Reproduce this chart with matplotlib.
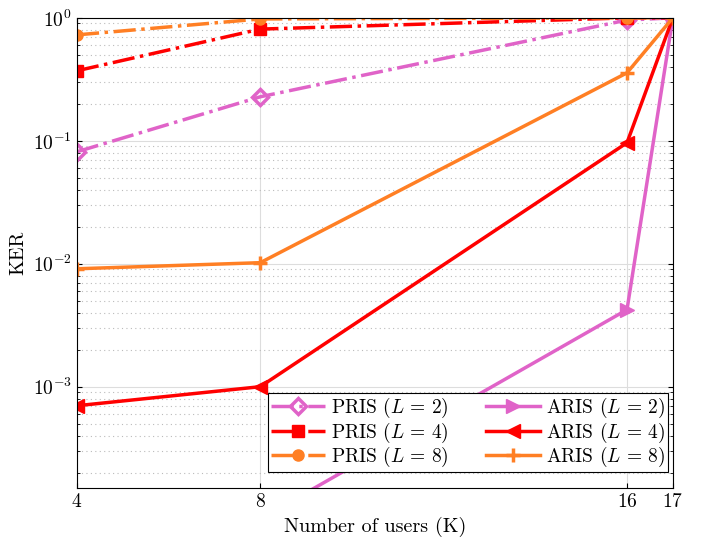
import matplotlib.pyplot as plt
import numpy as np

plt.rcParams['font.family'] = 'serif'
plt.rcParams['font.serif'] = ['cmr10', 'DejaVu Serif']
plt.rcParams['mathtext.fontset'] = 'cm'
plt.rcParams['axes.formatter.use_mathtext'] = True
plt.rcParams['axes.unicode_minus'] = False

# data
users = [4, 8, 16, 17]
pris_l2 = [0.0814, 0.228, 0.96, 1.0]
pris_l4 = [0.371, 0.81, 1.0, 1.0]
pris_l8 = [0.727, 0.98, 1.0, 1.0]
aris_l2 = [1.2e-5, 8.4e-5, 0.00423, 1.0]
aris_l4 = [7.0e-4, 1.0e-3, 0.0964, 1.0]
aris_l8 = [0.0091, 0.0102, 0.357, 1.0]

pink = '#E063C8'
red = '#FF0000'
orange = '#FF7F24'

fig = plt.figure(figsize=(7.12, 5.41), dpi=100)
ax = fig.add_axes([0.108, 0.098, 0.837, 0.869])

lw = 2.5
ax.plot(users, pris_l2, '-.', color=pink, lw=lw, marker='D', ms=8, mfc='none', mew=2.5,
        label=r'PRIS ($L\,=\,2$)')
ax.plot(users, pris_l4, '-.', color=red, lw=lw, marker='s', ms=8, label=r'PRIS ($L\,=\,4$)')
ax.plot(users, pris_l8, '-.', color=orange, lw=lw, marker='o', ms=8, label=r'PRIS ($L\,=\,8$)')
ax.plot(users, aris_l2, '-', color=pink, lw=lw, marker='>', ms=10, label=r'ARIS ($L\,=\,2$)')
ax.plot(users, aris_l4, '-', color=red, lw=lw, marker='<', ms=10, label=r'ARIS ($L\,=\,4$)')
ax.plot(users, aris_l8, '-', color=orange, lw=lw, marker='+', ms=10, mew=2.5,
        label=r'ARIS ($L\,=\,8$)')

ax.set_yscale('log')
ax.set_xlim(4, 17)
ax.set_ylim(1.5e-4, 1.0)
ax.set_xticks(users)
ax.set_yticks([1e-3, 1e-2, 1e-1, 1e0])
ax.tick_params(which='both', direction='in', top=True, right=True, labelsize=14)
ax.grid(True, which='major', color='#dddddd', lw=0.8, ls='-')
ax.grid(True, which='minor', axis='y', color='#bbbbbb', lw=0.8, ls=(0, (1, 3)))
ax.set_axisbelow(True)

ax.set_xlabel('Number of users (K)', fontsize=14.5)
ax.set_ylabel('KER', fontsize=14.5)

leg = ax.legend(ncol=2, loc='lower right', fontsize=14, fancybox=False, edgecolor='black',
                framealpha=1, handlelength=2.8, columnspacing=1.9, borderpad=0.15,
                labelspacing=0.02, handletextpad=0.3, borderaxespad=0,
                bbox_to_anchor=(0.992, 0.034))
leg.get_frame().set_linewidth(0.8)

fig.savefig('out.png', dpi=100)
